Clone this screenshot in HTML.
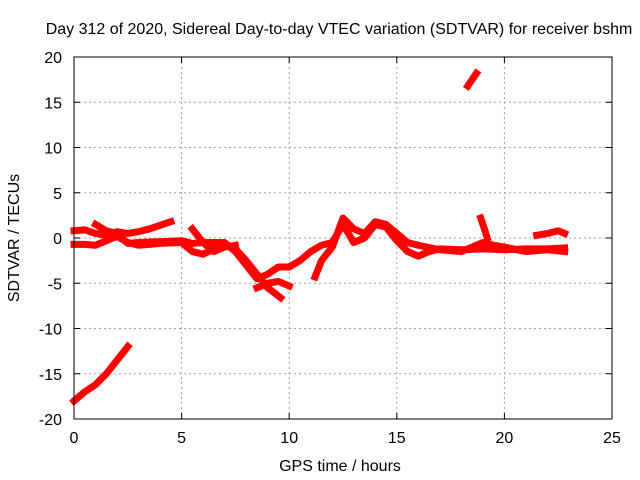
<!DOCTYPE html>
<html><head><meta charset="utf-8"><style>
body{margin:0;background:#fff}
svg{display:block;font-family:"Liberation Sans",sans-serif}
</style></head><body>
<svg id="chart" width="640" height="480" viewBox="0 0 640 480">
<rect width="640" height="480" fill="#fff"/>
<text x="339" y="34" font-size="16" text-anchor="middle">Day 312 of 2020, Sidereal Day-to-day VTEC variation (SDTVAR) for receiver bshm</text>
<text x="340" y="471" font-size="16" text-anchor="middle">GPS time / hours</text>
<text transform="translate(19,238) rotate(-90)" font-size="16" text-anchor="middle">SDTVAR / TECUs</text>
<g id="grid"></g><g id="ticks"></g><g id="series"></g>
<rect x="74" y="57" width="538" height="362" fill="none" stroke="#000" stroke-width="1"/>
</svg>
<script>
const xTicks=[0,5,10,15,20,25];
const yTicks=[-20,-15,-10,-5,0,5,10,15,20];
const trackA=[[0,0.8],[0.5,0.9],[1,0.5],[1.5,0.3],[2,0.7],[2.5,0.5],[3,0.7],[3.5,1.0],[4,1.4],[4.5,1.8]];
const trackB=[[0,-0.7],[0.5,-0.7],[1,-0.8],[1.5,-0.3],[2,0.2],[2.5,-0.5],[3,-0.8],[3.5,-0.7],[4,-0.6],[5,-0.5],[5.5,-1.5],[6,-1.8],[6.5,-1.2],[7,-0.7],[7.5,-1.2],[8,-2.5],[8.5,-4],[9,-5.5],[9.6,-6.6]];
const trackC=[[1,1.5],[1.5,0.8],[2,0.5],[2.5,-0.6],[3,-0.5],[4,-0.4],[5,-0.3],[5.5,-0.6],[6,-0.5],[7,-0.5],[7.5,-1.5],[8,-3],[8.5,-4.5],[9,-4],[9.5,-3.2],[10,-3.2],[10.5,-2.5],[11,-1.5],[11.5,-0.8],[12,-0.5],[12.5,1.5],[13,-0.5],[13.5,0],[14,1.5],[14.5,1.2],[15,-0.3],[15.5,-1.5],[16,-2],[16.5,-1.5],[17,-1.2],[18,-1.3],[19,-1.2],[20,-1.3],[21,-1.2],[22,-1.2],[22.8,-1.1]];
const trackD=[[5.5,1],[6,-0.5],[6.5,-1.5],[7,-1],[7.5,-0.8]];
const trackE=[[11.2,-4.3],[11.5,-2.5],[12,-1],[12.5,2.2],[13,1],[13.5,0.5],[14,1.8],[14.5,1.5],[15,0.5],[15.5,-0.5],[16,-0.8],[17,-1.3],[18,-1.5],[18.5,-1],[19,-0.5],[19.5,-0.8],[20,-1],[21,-1.5],[22,-1.3],[22.8,-1.5]];
const trackF=[[8.5,-5.5],[9,-5],[9.5,-4.8],[10,-5.3]];
const trackG=[[21.5,0.3],[22,0.5],[22.5,0.8],[22.8,0.5]];
const trackH=[[18.9,2.2],[19.1,0.8],[19.2,0]];
const trackI=[[18.3,16.8],[18.7,18.2]];
const trackJ=[[0,-18],[0.5,-17],[1,-16.2],[1.5,-15],[2,-13.5],[2.5,-12]];
const tracks=[trackA,trackB,trackC,trackD,trackE,trackF,trackG,trackH,trackI,trackJ];
const X=h=>74+h*538/25, Y=v=>238-v*362/40;
const NS="http://www.w3.org/2000/svg";
const g=document.getElementById('grid'),t=document.getElementById('ticks'),s=document.getElementById('series');
function mk(tag,at,p){const e=document.createElementNS(NS,tag);for(const k in at)e.setAttribute(k,at[k]);p.appendChild(e);return e;}
xTicks.forEach(v=>{
 if(v>0&&v<25){const l=mk('line',{x1:X(v),x2:X(v),y1:57,y2:419,stroke:'#a0a0a0','stroke-dasharray':'2,3'},g);
 
 }
 mk('line',{x1:X(v),x2:X(v),y1:419,y2:413,stroke:'#000'},t);mk('line',{x1:X(v),x2:X(v),y1:57,y2:63,stroke:'#000'},t);
 const tx=mk('text',{x:X(v),y:443,'font-size':16,'text-anchor':'middle'},t);tx.textContent=v;
 
 
});
yTicks.forEach(v=>{
 if(v>-20&&v<20){const l=mk('line',{x1:74,x2:612,y1:Y(v),y2:Y(v),stroke:'#a0a0a0','stroke-dasharray':'2,3'},g);
 
 }
 mk('line',{x1:74,x2:80,y1:Y(v),y2:Y(v),stroke:'#000'},t);mk('line',{x1:612,x2:606,y1:Y(v),y2:Y(v),stroke:'#000'},t);
 const tx=mk('text',{x:62,y:Y(v)+6,'font-size':16,'text-anchor':'end'},t);tx.textContent=v;
 
 
});
tracks.forEach(tr=>{
 const p=mk('polyline',{points:tr.map(d=>X(d[0])+','+Y(d[1])).join(' '),fill:'none',stroke:'#f00','stroke-width':7,'stroke-linejoin':'round','stroke-linecap':'square'},s);
 
 
});
</script>
</body></html>
